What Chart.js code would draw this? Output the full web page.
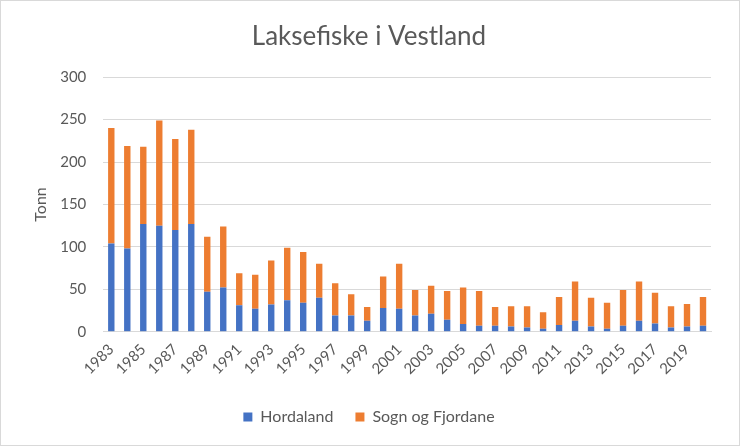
<!DOCTYPE html>
<html>
<head>
<meta charset="utf-8">
<script src="https://cdn.jsdelivr.net/npm/chart.js@4"></script>
<style>
html,body{margin:0;padding:0;background:#fff;}
#wrap{position:absolute;left:0;top:0;width:738px;height:444px;border:1px solid #d9d9d9;}
</style>
</head>
<body>
<div id="wrap"><canvas id="c" width="738" height="444"></canvas></div>
<script>
const years = [];
for (let y = 1983; y <= 2020; y++) years.push(String(y));
const hordaland = [104, 98, 127, 125, 120, 127, 47, 52, 31, 27, 32, 37, 34, 40, 19, 19, 13, 28, 27, 19, 21, 14, 9, 7, 7, 6, 5, 3.5, 8, 13, 6, 3.5, 7, 13, 9.5, 5, 6, 7];
const totals = [240, 219, 218, 249, 227, 238, 112, 124, 69, 67, 84, 99, 94, 80, 57, 44, 29, 65, 80, 49, 54, 48, 52, 48, 29, 30, 30, 23, 41, 59, 40, 34, 49, 59, 46, 30, 32.5, 41];
const sognFjordane = totals.map((t, i) => +(t - hordaland[i]).toFixed(1));
const yTicks = [0, 50, 100, 150, 200, 250, 300];

const grey = '#595959';
const font = 'Lato, "Liberation Sans", sans-serif';

new Chart(document.getElementById('c'), {
  type: 'bar',
  data: {
    labels: years,
    datasets: [
      { label: 'Hordaland', data: hordaland, backgroundColor: '#4472C4', barPercentage: 0.4, categoryPercentage: 1 },
      { label: 'Sogn og Fjordane', data: sognFjordane, backgroundColor: '#ED7D31', barPercentage: 0.4, categoryPercentage: 1 }
    ]
  },
  options: {
    responsive: false,
    animation: false,
    layout: { padding: { left: 26, right: 28, top: 14, bottom: 10 } },
    plugins: {
      title: { display: true, text: 'Laksefiske i Vestland', color: grey, font: { family: font, size: 26, weight: 'normal' }, padding: { top: 6, bottom: 25 } },
      legend: { position: 'bottom', labels: { color: grey, boxWidth: 9, boxHeight: 9, font: { family: font, size: 16 }, padding: 22 } },
      tooltip: { enabled: false }
    },
    scales: {
      x: {
        stacked: true,
        grid: { display: false, drawTicks: false },
        border: { color: '#d9d9d9' },
        ticks: {
          color: grey, font: { family: font, size: 15 }, autoSkip: false, maxRotation: 45, minRotation: 45, padding: 9,
          callback: function (v, i) { return i % 2 === 0 ? years[i] : ''; }
        }
      },
      y: {
        stacked: true, min: 0, max: 300,
        afterBuildTicks: (axis) => { axis.ticks = yTicks.map(v => ({ value: v })); },
        grid: { color: '#d9d9d9', drawTicks: false },
        border: { display: false },
        ticks: { color: grey, font: { family: font, size: 15 }, padding: 17 },
        title: { display: true, text: 'Tonn', color: grey, font: { family: font, size: 16 }, padding: { top: 4, bottom: -7 } }
      }
    }
  }
});
</script>
</body>
</html>
